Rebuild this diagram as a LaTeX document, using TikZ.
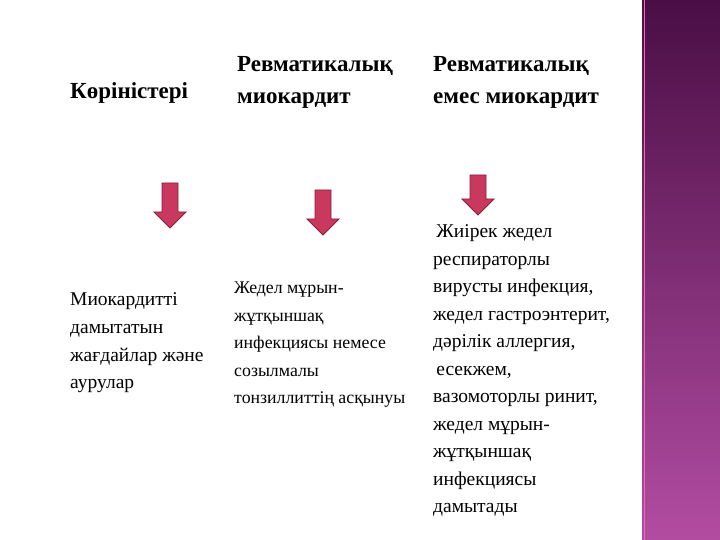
\documentclass[tikz,border=0pt]{standalone}
\usepackage{fontspec}
\setmainfont{Liberation Serif}
\begin{document}
\begin{tikzpicture}[x=1pt,y=1pt,
  txt/.style={anchor=base west,align=left,inner sep=0pt,font=\fontsize{17.8}{27.5}\selectfont},
  hdr/.style={anchor=base west,align=left,inner sep=0pt,font=\bfseries\fontsize{23}{32}\selectfont},
  darr/.style={fill=arrred,draw=arrdark,line width=0.8pt}]
\definecolor{arrred}{HTML}{C8385F}
\definecolor{arrdark}{HTML}{8A1F3C}
\definecolor{bartop}{HTML}{4A0E45}
\definecolor{barbot}{HTML}{B24CA2}
\useasboundingbox (0,0) rectangle (720,540);
\fill[white] (0,0) rectangle (720,540);
\shade[top color=bartop,bottom color=barbot] (642,0) rectangle (720,540);
\draw[magenta!60!white,line width=0.8pt] (644,0) -- (644,540);
\node[hdr] (h1) at (70,441) {Көріністері};
\node[hdr] (h2) at (237,436) {Ревматикалық\\миокардит};
\node[hdr] (h3) at (433,436) {Ревматикалық\\емес миокардит};
\node[txt,font=\fontsize{19.5}{27.7}\selectfont] (t1) at (70,151) {Миокардитті\\дамытатын\\жағдайлар және\\аурулар};
\node[txt] (t2) at (234,136) {Жедел мұрын-\\жұтқыншақ\\инфекциясы немесе\\созылмалы\\тонзиллиттің асқынуы};
\node[txt,font=\fontsize{19.5}{27.5}\selectfont] (t3) at (433,27) {\,Жиірек жедел\\респираторлы\\вирусты инфекция,\\жедел гастроэнтерит,\\дәрілік аллергия,\\\,есекжем,\\вазомоторлы ринит,\\жедел мұрын-\\жұтқыншақ\\инфекциясы\\дамытады};
\foreach \n/\x/\t/\b in {a1/170/357/312, a2/323/350/305, a3/478/365/325}{
  \path[darr] (\x-8,\t) -- (\x+8,\t) -- (\x+8,\b+16) -- (\x+16,\b+16) -- (\x,\b) -- (\x-16,\b+16) -- (\x-8,\b+16) -- cycle;
  \coordinate (\n) at (\x,\b);
}
\end{tikzpicture}
\end{document}
